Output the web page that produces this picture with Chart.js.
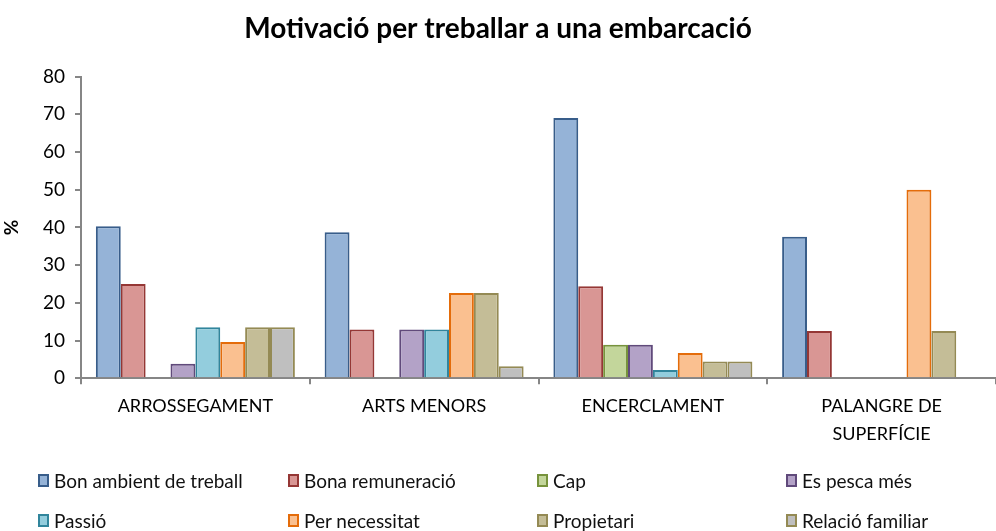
<!DOCTYPE html>
<html>
<head>
<meta charset="utf-8">
<script src="https://cdn.jsdelivr.net/npm/chart.js@4.4.0/dist/chart.umd.min.js"></script>
<style>
  body { margin: 0; background: #fff; }
  #wrap { position: relative; width: 996px; height: 531px; overflow: hidden; }
  #legend { position: absolute; left: 38px; top: 469px; font-family: Lato, sans-serif; font-size: 19px; color: #111; }
  #legend .item { position: absolute; white-space: nowrap; display: flex; align-items: center; }
  #legend .box { width: 11px; height: 13px; margin-right: 5px; border: 2px solid; box-sizing: border-box; }
</style>
</head>
<body>
<div id="wrap">
  <canvas id="barChart" width="996" height="531"></canvas>
  <div id="legend"></div>
</div>
<script>
var categories = ["ARROSSEGAMENT", "ARTS MENORS", "ENCERCLAMENT", ["PALANGRE DE", "SUPERFÍCIE"]];
var seriesNames = ["Bon ambient de treball", "Bona remuneració", "Cap", "Es pesca més",
                   "Passió", "Per necessitat", "Propietari", "Relació familiar"];

var bonAmbient     = [40.3, 38.7, 69.0, 37.5];
var bonaRemun      = [25.0, 12.9, 24.4, 12.5];
var cap            = [0, 0, 8.9, 0];
var esPesca        = [3.8, 12.9, 8.9, 0];
var passio         = [13.5, 12.9, 2.2, 0];
var perNecessitat  = [9.6, 22.6, 6.7, 50.0];
var propietari     = [13.5, 22.6, 4.4, 12.5];
var relacioFamiliar = [13.5, 3.2, 4.4, 0];

var yTicks = [0, 10, 20, 30, 40, 50, 60, 70, 80];

var fills   = ["#95b3d7", "#d99694", "#c3d69b", "#b3a2c7", "#93cddd", "#fac090", "#c4bd97", "#bfbfbf"];
var borders = ["#385d8a", "#953735", "#77933c", "#604a7b", "#31859c", "#e46c0a", "#948a54", "#948a54"];
var allValues = [bonAmbient, bonaRemun, cap, esPesca, passio, perNecessitat, propietari, relacioFamiliar];

var datasets = seriesNames.map(function (name, i) {
    return {
        label: name,
        data: allValues[i],
        backgroundColor: fills[i],
        borderColor: borders[i],
        borderWidth: 2,
        borderSkipped: 'bottom',
        barPercentage: 1.0,
        categoryPercentage: 0.87
    };
});

var font = "Lato, sans-serif";

var ctx = document.getElementById("barChart").getContext("2d");
new Chart(ctx, {
    type: 'bar',
    data: { labels: categories, datasets: datasets },
    options: {
        responsive: false,
        animation: false,
        layout: { padding: { left: 0, right: 0, top: 0, bottom: 75 } },
        plugins: {
            legend: { display: false },
            tooltip: { enabled: false },
            title: {
                display: true,
                text: "Motivació per treballar a una embarcació",
                color: "#000",
                font: { family: font, size: 28, weight: 'bold' },
                padding: { top: 12, bottom: 31 }
            }
        },
        scales: {
            x: {
                border: { color: "#868686", width: 2 },
                grid: { display: true, offset: true, drawOnChartArea: false, drawTicks: true, tickLength: 6, color: "#868686", lineWidth: 2 },
                ticks: { color: "#000", font: { family: font, size: 18, lineHeight: 1.55 }, padding: 8, maxRotation: 0 }
            },
            y: {
                min: 0,
                max: 80,
                afterBuildTicks: function (axis) { axis.ticks = yTicks.map(function (v) { return { value: v }; }); },
                afterFit: function (axis) { axis.width = 81; },
                border: { color: "#868686", width: 2 },
                grid: { display: true, drawOnChartArea: false, drawTicks: true, tickLength: 6, color: "#868686", lineWidth: 2 },
                ticks: { color: "#000", font: { family: font, size: 19 }, padding: 10 },
                title: { display: true, text: "%", color: "#000", font: { family: font, size: 19, weight: 'bold' }, padding: 0 }
            }
        }
    }
});

// legend laid out in 4 aligned columns, 2 rows
var legendEl = document.getElementById("legend");
var colX = [0, 250, 499, 748];
seriesNames.forEach(function (name, i) {
    var item = document.createElement("div");
    item.className = "item";
    item.style.left = colX[i % 4] + "px";
    item.style.top = (Math.floor(i / 4) * 40) + "px";
    var box = document.createElement("span");
    box.className = "box";
    box.style.background = fills[i];
    box.style.borderColor = borders[i];
    item.appendChild(box);
    item.appendChild(document.createTextNode(name));
    legendEl.appendChild(item);
});
</script>
</body>
</html>
